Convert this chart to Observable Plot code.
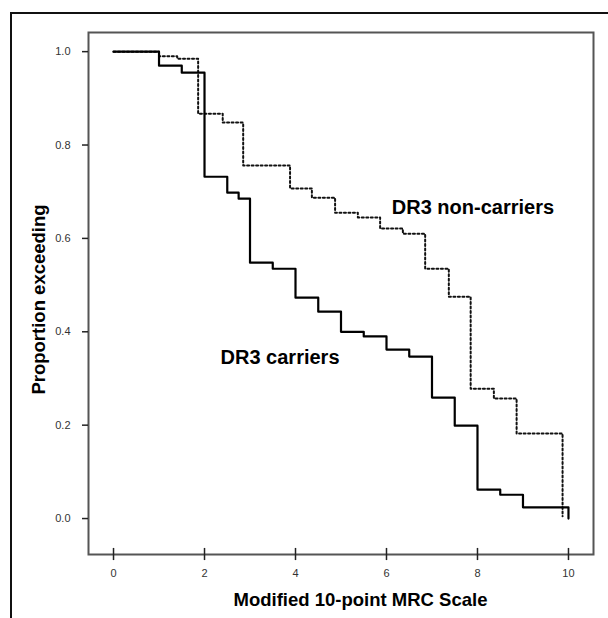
<!DOCTYPE html>
<html>
<head>
<meta charset="utf-8">
<script src="https://cdn.jsdelivr.net/npm/d3@7"></script>
<script src="https://cdn.jsdelivr.net/npm/@observablehq/plot@0.6"></script>
<style>
  html, body { margin: 0; padding: 0; background: #fff; }
  #wrap { position: relative; width: 608px; height: 618px; overflow: hidden; }
  #outer { position: absolute; left: 10px; top: 12px; width: 620px; height: 620px;
           border-top: 2px solid #111; border-left: 2px solid #111; pointer-events: none; }
  svg { font-family: "Liberation Sans", Arial, sans-serif; }
</style>
</head>
<body>
<div id="wrap"><div id="outer"></div></div>
<script>
// Step-curve data
const carriersX = [0, 1, 1.5, 2, 2.5, 2.75, 3, 3.5, 4, 4.5, 5, 5.5, 6, 6.5, 7, 7.5, 8, 8.5, 9, 10];
const carriersY = [1.0, 0.970, 0.955, 0.732, 0.698, 0.685, 0.548, 0.535, 0.473, 0.443, 0.400, 0.390, 0.362, 0.347, 0.259, 0.199, 0.062, 0.051, 0.024, 0.0];

const nonCarriersX = [0, 1, 1.4, 1.86, 2.4, 2.85, 3.88, 4.36, 4.87, 5.37, 5.86, 6.36, 6.85, 7.37, 7.85, 8.36, 8.86, 9.87];
const nonCarriersY = [1.0, 0.990, 0.985, 0.867, 0.848, 0.756, 0.707, 0.687, 0.655, 0.645, 0.621, 0.610, 0.535, 0.475, 0.278, 0.257, 0.182, 0.005];

const xTicks = [0, 2, 4, 6, 8, 10];
const yTicks = [0, 0.2, 0.4, 0.6, 0.8, 1.0];

const labelText = ["DR3 carriers", "DR3 non-carriers"];
const labelX = [3.66, 7.9];
const labelY = [0.345, 0.665];

const xTitle = "Modified 10-point MRC Scale";
const yTitle = "Proportion exceeding";

const carriers = carriersX.map((x, i) => ({x, y: carriersY[i]}));
const nonCarriers = nonCarriersX.map((x, i) => ({x, y: nonCarriersY[i]}));
const labels = labelText.map((t, i) => ({t, x: labelX[i], y: labelY[i]}));

const chart = Plot.plot({
  width: 608,
  height: 618,
  marginLeft: 88,
  marginRight: 15,
  marginTop: 32,
  marginBottom: 64,
  style: {fontFamily: "Liberation Sans, Arial, sans-serif", background: "transparent", overflow: "visible"},
  x: {domain: [-0.55, 10.55]},
  y: {domain: [-0.077, 1.041]},
  marks: [
    Plot.frame({stroke: "#555", strokeWidth: 2}),
    Plot.ruleX(xTicks, {x: d => d, y1: -0.064, y2: -0.090, stroke: "#222", strokeWidth: 1.5}),
    Plot.axisX({ticks: xTicks, tickSize: 0, tickPadding: 15, fontSize: 11, fill: "#333", label: null}),
    Plot.axisY({ticks: yTicks, tickFormat: d3.format(".1f"), tickSize: 6, tickPadding: 12, fontSize: 11, fill: "#333", stroke: "#222", strokeWidth: 1.5, label: null}),
    Plot.line(nonCarriers, {x: "x", y: "y", curve: "step-after", stroke: "#111", strokeWidth: 2, strokeDasharray: "2,2.5"}),
    Plot.line(carriers, {x: "x", y: "y", curve: "step-after", stroke: "#000", strokeWidth: 2.2}),
    Plot.text(labels, {x: "x", y: "y", text: "t", fontSize: 20, fontWeight: "bold", fill: "#000"}),
    Plot.text([xTitle], {frameAnchor: "bottom", textAnchor: "middle", dx: 19.5, dy: 51, fontSize: 18.5, fontWeight: "bold", fill: "#000"}),
    Plot.text([yTitle], {frameAnchor: "left", textAnchor: "middle", dx: -49, dy: 6, rotate: -90, fontSize: 18.5, fontWeight: "bold", fill: "#000"})
  ]
});
chart.style.position = "absolute";
chart.style.left = "0px";
chart.style.top = "0px";
document.getElementById("wrap").appendChild(chart);
</script>
</body>
</html>
